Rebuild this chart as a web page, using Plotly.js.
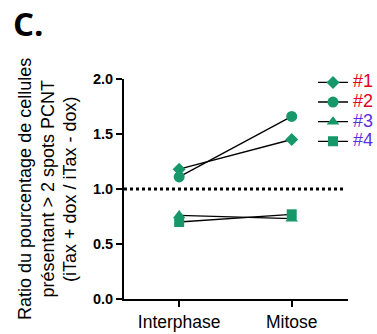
<!DOCTYPE html>
<html>
<head>
<meta charset="utf-8">
<script src="https://cdn.plot.ly/plotly-3.0.1.min.js"></script>
<style>html,body{margin:0;padding:0;background:#fff;overflow:hidden;}#chart{width:377px;height:334px;overflow:hidden;}</style>
</head>
<body>
<div id="chart"></div>
<script>
const categories = ["Interphase", "Mitose"];
const seriesNames = ["#1", "#2", "#3", "#4"];
const seriesLabelColors = ["#e3001b", "#e3001b", "#5b2fe0", "#5b2fe0"];
const seriesSymbols = ["diamond", "circle", "triangle-up", "square"];
const s1 = [1.18, 1.45];
const s2 = [1.11, 1.66];
const s3 = [0.76, 0.73];
const s4 = [0.70, 0.77];
const seriesValues = [s1, s2, s3, s4];
const referenceLevel = 1.0;
const yTicks = [0, 0.5, 1.0, 1.5, 2.0];
const yTitleLines = ["Ratio du pourcentage de cellules", "présentant > 2 spots PCNT", "(iTax + dox / iTax - dox)"];

const green = "#17986b";
const sizes = [10, 11, 11, 10];
const traces = seriesValues.map((vals, i) => ({
  type: "scatter",
  mode: "lines+markers",
  x: categories,
  y: vals,
  name: '<span style="color:' + seriesLabelColors[i] + ';font-size:18px">' + seriesNames[i] + '</span>',
  line: {color: "#000", width: 1.3},
  marker: {symbol: seriesSymbols[i], size: sizes[i], color: green, line: {width: 0}},
  cliponaxis: false
}));

const L = 124, W = 224, FULLW = 400;
const titleX = [25, 47.5, 70];
const annotations = yTitleLines.map((t, i) => ({
  text: t, xref: "paper", yref: "paper", x: (titleX[i] - L) / W, y: 0.5,
  xanchor: "center", yanchor: "middle", textangle: -90, showarrow: false,
  font: {size: 18, family: "Liberation Sans, Arial, sans-serif", color: "#000"}
}));

const layout = {
  width: FULLW, height: 334,
  margin: {l: L, r: FULLW - L - W, t: 79, b: 35},
  paper_bgcolor: "#fff", plot_bgcolor: "#fff",
  font: {family: "Liberation Sans, Arial, sans-serif", color: "#000"},
  title: {text: "<b>C.</b>", font: {family: "Open Sans, Liberation Sans, sans-serif", size: 33, color: "#000"},
          x: 13/FULLW, xanchor: "left", xref: "container", y: 1 - 24/334, yanchor: "middle", yref: "container"},
  xaxis: {
    type: "category", range: [-0.49, 1.5],
    showline: true, linecolor: "#000", linewidth: 2,
    ticks: "outside", ticklen: 6, tickwidth: 2, tickcolor: "#000",
    tickfont: {size: 17.5, family: "Liberation Sans, Arial, sans-serif"},
    showgrid: false, zeroline: false, fixedrange: true, automargin: false
  },
  yaxis: {
    range: [0, 2.0], tickvals: yTicks, ticktext: yTicks.map(v => v.toFixed(1)),
    showline: true, linecolor: "#000", linewidth: 2,
    ticks: "outside", ticklen: 6, tickwidth: 2, tickcolor: "#000",
    tickfont: {size: 14.5, family: "Liberation Sans, Arial, sans-serif", weight: "bold"},
    showgrid: false, zeroline: false, fixedrange: true, automargin: false
  },
  annotations: annotations,
  shapes: [{
    type: "line", xref: "x", yref: "y", x0: -0.49, x1: 1.47, y0: referenceLevel, y1: referenceLevel,
    line: {color: "#000", width: 3, dash: "dot"}
  }],
  showlegend: true,
  legend: {x: (313 - L) / W, xanchor: "left", y: 1.052, yanchor: "top", font: {size: 12.8, family: "Liberation Sans, Arial, sans-serif"},
           bgcolor: "rgba(0,0,0,0)", itemwidth: 30, tracegroupgap: 0}
};

Plotly.newPlot("chart", traces, layout, {displayModeBar: false, staticPlot: true});
</script>
</body>
</html>
